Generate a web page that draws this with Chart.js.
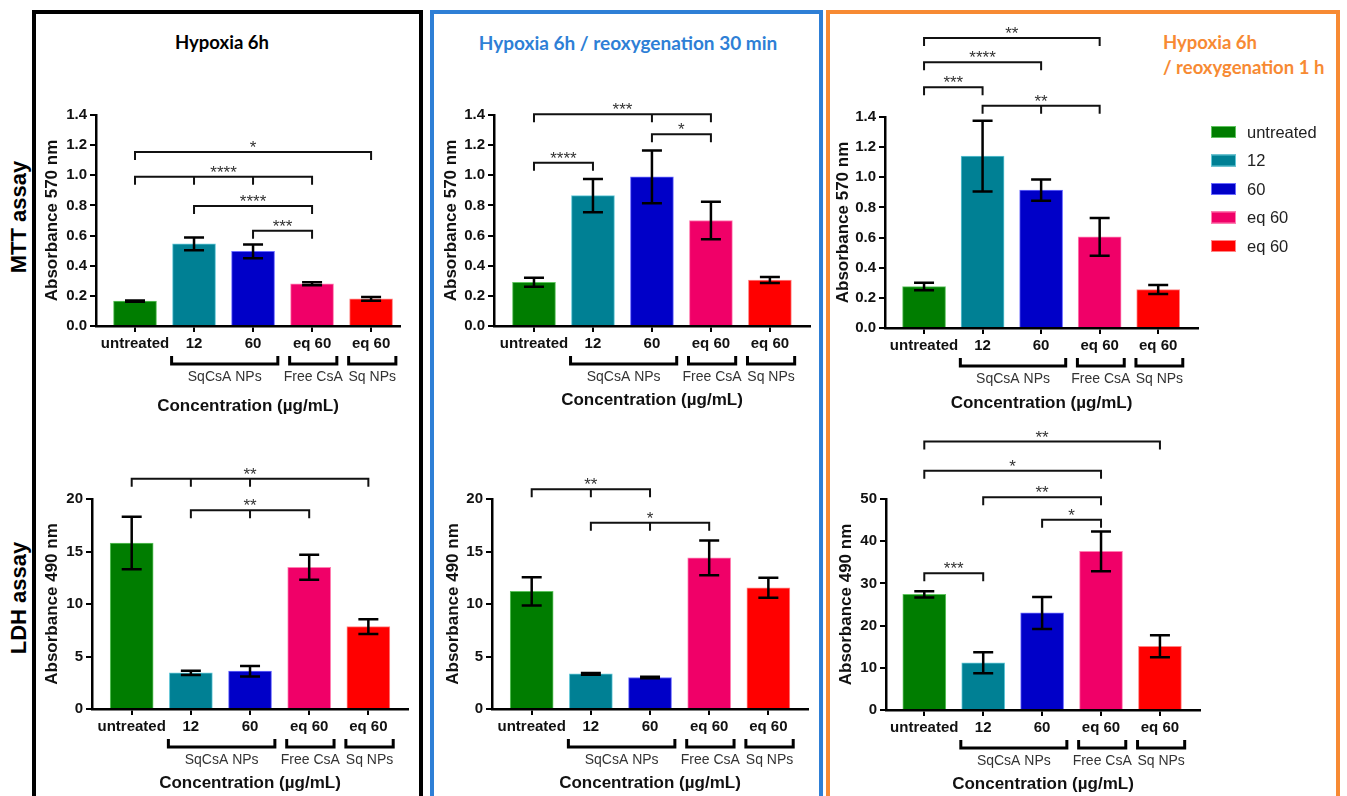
<!DOCTYPE html>
<html>
<head>
<meta charset="utf-8">
<script src="https://cdn.jsdelivr.net/npm/chart.js@4.4.1/dist/chart.umd.min.js"></script>
<style>
  body { margin: 0; background: #fff; }
  #fig { position: relative; width: 1347px; height: 796px; overflow: hidden; font-family: 'Liberation Sans', Arial, sans-serif; }
  .frame { position: absolute; top: 10px; height: 800px; box-sizing: border-box; border: 4px solid; }
  canvas { position: absolute; }
  .lbl { position: absolute; white-space: nowrap; }
  .ptitle { font-family: Lato, 'Open Sans', sans-serif; font-weight: 700; font-size: 18.5px; line-height: 1; }
  .center { transform: translate(-50%, -50%); }
  .row { font-weight: bold; font-size: 22px; color: #000; transform: translate(-50%, -50%) rotate(-90deg); }
</style>
</head>
<body>
<div id="fig">
  <div class="frame" style="left:32px;width:391px;border-color:#000"></div>
  <div class="frame" style="left:430px;width:393px;border-color:#2e7fd6"></div>
  <div class="frame" style="left:826px;width:514px;border-color:#f78a33"></div>

  <div class="lbl ptitle center" style="left:222px;top:42px;color:#000">Hypoxia 6h</div>
  <div class="lbl ptitle center" style="left:628px;top:42px;color:#2e7fd6;font-size:19px">Hypoxia 6h / reoxygenation 30 min</div>
  <div class="lbl ptitle" style="left:1163px;top:33px;color:#f78a33">Hypoxia 6h</div>
  <div class="lbl ptitle" style="left:1163px;top:58px;color:#f78a33">/ reoxygenation 1 h</div>

  <div class="lbl row" style="left:19px;top:217px">MTT assay</div>
  <div class="lbl row" style="left:19px;top:598px">LDH assay</div>

  <canvas id="mtt1"></canvas>
  <canvas id="mtt2"></canvas>
  <canvas id="mtt3"></canvas>
  <canvas id="ldh1"></canvas>
  <canvas id="ldh2"></canvas>
  <canvas id="ldh3"></canvas>
</div>
<script>
const categories   = ['untreated', '12', '60', 'eq 60', 'eq 60'];
const groupLabels  = ['SqCsA NPs', 'Free CsA', 'Sq NPs'];
const groupSpans   = [[1, 2], [3, 3], [4, 4]];
const legendLabels = ['untreated', '12', '60', 'eq 60', 'eq 60'];
const barColors    = ['#007d00', '#008094', '#0000c8', '#f00068', '#ff0000'];
const barEdges     = ['#5fc35f', '#62c6d6', '#6b6bff', '#ff7fb2', '#ff8585'];

const mttTicks   = [0, 0.2, 0.4, 0.6, 0.8, 1.0, 1.2, 1.4];
const ldhTicks   = [0, 5, 10, 15, 20];
const ldhTicks50 = [0, 10, 20, 30, 40, 50];

// MTT assay, absorbance 570 nm
const mttHypoxia      = [0.165, 0.545, 0.495, 0.28, 0.18];
const mttHypoxiaErr   = [0.004, 0.042, 0.045, 0.01, 0.012];
const mttReox30       = [0.29, 0.865, 0.99, 0.70, 0.305];
const mttReox30Err    = [0.03, 0.11, 0.175, 0.125, 0.02];
const mttReox1h       = [0.275, 1.14, 0.915, 0.605, 0.255];
const mttReox1hErr    = [0.025, 0.235, 0.07, 0.125, 0.03];

// LDH assay, absorbance 490 nm
const ldhHypoxia      = [15.8, 3.45, 3.6, 13.5, 7.85];
const ldhHypoxiaErr   = [2.5, 0.2, 0.5, 1.2, 0.7];
const ldhReox30       = [11.2, 3.35, 3.0, 14.4, 11.55];
const ldhReox30Err    = [1.35, 0.08, 0.07, 1.65, 0.95];
const ldhReox1h       = [27.4, 11.2, 23.0, 37.6, 15.1];
const ldhReox1hErr    = [0.75, 2.5, 3.8, 4.7, 2.6];

// significance brackets: [from, to, level, stars, middle ticks]
const sigMttHypoxia = [[0, 4, 1.155, '*', []], [0, 3, 0.99, '****', [1, 2]], [1, 3, 0.797, '****', []], [2, 3, 0.632, '***', []]];
const sigMttReox30  = [[0, 3, 1.405, '***', [2]], [2, 3, 1.273, '*', []], [0, 1, 1.084, '****', []]];
const sigMttReox1h  = [[0, 3, 1.925, '**', []], [0, 2, 1.763, '****', []], [0, 1, 1.597, '***', []], [1, 3, 1.475, '**', [2]]];
const sigLdhHypoxia = [[0, 4, 21.94, '**', [1, 2]], [1, 3, 18.93, '**', [2]]];
const sigLdhReox30  = [[0, 2, 20.92, '**', [1]], [1, 3, 17.74, '*', [2]]];
const sigLdhReox1h  = [[0, 4, 63.6, '**', []], [0, 3, 56.7, '*', []], [1, 3, 50.4, '**', []], [2, 3, 45.1, '*', []], [0, 1, 32.4, '***', []]];

Chart.defaults.font.family = "'Liberation Sans', Arial, sans-serif";
Chart.defaults.color = '#111';

const BOLD15 = { size: 15, weight: 'bold' };
const BOLD17 = { size: 17, weight: 'bold' };

function overlay(o) {
  return {
    id: 'overlay',
    afterDatasetsDraw(chart) {
      const { ctx, scales: { x, y } } = chart;
      ctx.save();
      ctx.strokeStyle = '#000';
      ctx.lineWidth = 2.5;
      o.values.forEach((v, i) => {
        const px = x.getPixelForValue(i);
        const t = y.getPixelForValue(v + o.errors[i]);
        const b = y.getPixelForValue(v - o.errors[i]);
        ctx.beginPath();
        ctx.moveTo(px, t); ctx.lineTo(px, b);
        ctx.moveTo(px - 10, t); ctx.lineTo(px + 10, t);
        ctx.moveTo(px - 10, b); ctx.lineTo(px + 10, b);
        ctx.stroke();
      });
      ctx.restore();
    },
    afterDraw(chart) {
      const { ctx, scales: { x, y }, chartArea } = chart;
      ctx.save();
      // significance brackets
      ctx.lineWidth = 2;
      ctx.strokeStyle = '#111';
      ctx.fillStyle = '#333';
      ctx.font = "17px 'Liberation Sans', Arial, sans-serif";
      ctx.textAlign = 'center';
      ctx.textBaseline = 'alphabetic';
      o.sig.forEach(([from, to, level, stars, mids]) => {
        const x1 = x.getPixelForValue(from), x2 = x.getPixelForValue(to);
        const yy = y.getPixelForValue(level);
        ctx.beginPath();
        ctx.moveTo(x1, yy + 8); ctx.lineTo(x1, yy); ctx.lineTo(x2, yy); ctx.lineTo(x2, yy + 8);
        mids.forEach(m => { const xm = x.getPixelForValue(m); ctx.moveTo(xm, yy); ctx.lineTo(xm, yy + 8); });
        ctx.stroke();
        ctx.fillText(stars, (x1 + x2) / 2, yy + 1);
      });
      // group brackets under the category labels
      const y0 = y.getPixelForValue(0);
      ctx.lineWidth = 3;
      ctx.strokeStyle = '#000';
      ctx.font = "14px 'Liberation Sans', Arial, sans-serif";
      ctx.textBaseline = 'middle';
      groupSpans.forEach(([from, to], g) => {
        const xa = x.getPixelForValue(from - 0.38), xb = x.getPixelForValue(to + 0.42);
        const yy = y0 + 38;
        ctx.beginPath();
        ctx.moveTo(xa, yy - 8); ctx.lineTo(xa, yy); ctx.lineTo(xb, yy); ctx.lineTo(xb, yy - 8);
        ctx.stroke();
        ctx.fillText(groupLabels[g], (xa + xb) / 2, y0 + 51);
      });
      // legend
      if (o.legend) {
        const lx = chartArea.right + 13;
        ctx.textAlign = 'left';
        ctx.font = "16.5px 'Liberation Sans', Arial, sans-serif";
        ctx.lineWidth = 1;
        legendLabels.forEach((lab, i) => {
          const cy = chartArea.top + 15 + i * 28.5;
          ctx.fillStyle = barColors[i];
          ctx.fillRect(lx, cy - 6, 25, 12);
          ctx.strokeStyle = barEdges[i];
          ctx.strokeRect(lx + 0.5, cy - 5.5, 24, 11);
          ctx.fillStyle = '#222';
          ctx.fillText(lab, lx + 36, cy + 1);
        });
      }
      ctx.restore();
    }
  };
}

function makeChart(id, o) {
  const cv = document.getElementById(id);
  const [cx, cy, cw, ch] = o.canvas;
  const [al, at, ar, ab] = o.area;
  cv.width = cw; cv.height = ch;
  cv.style.left = cx + 'px'; cv.style.top = cy + 'px';
  const yW = al - cx, padTop = at - cy, padRight = cx + cw - ar, xH = cy + ch - ab;

  return new Chart(cv, {
    type: 'bar',
    data: {
      datasets: [{
        data:            o.values.map((v, i) => ({ x: i, y: v })),
        backgroundColor: barColors,
        borderColor:     barEdges,
        borderWidth:     1,
        barThickness:    43,
      }],
    },
    options: {
      responsive: false,
      animation:  false,
      layout:     { padding: { left: 0, top: padTop, right: padRight, bottom: 0 } },
      plugins:    { legend: { display: false }, tooltip: { enabled: false } },
      scales: {
        x: {
          type:   'linear',
          min:    o.xMin,
          max:    o.xMax,
          offset: false,
          z:      1,
          afterBuildTicks: s => { s.ticks = categories.map((_, i) => ({ value: i })); },
          afterFit:        s => { s.height = xH; },
          ticks:  { autoSkip: false, maxRotation: 0, font: BOLD15, color: '#111', padding: 3,
                    callback: v => categories[v] },
          grid:   { offset: false, drawOnChartArea: false, tickLength: 6, color: '#000', lineWidth: 2 },
          border: { color: '#000', width: 2.5 },
          title:  { display: true, text: 'Concentration (µg/mL)', font: BOLD17, color: '#111',
                    padding: { top: 0, bottom: cy + ch - 10.2 - o.xTitleY } },
        },
        y: {
          min: 0,
          max: o.yTicks[o.yTicks.length - 1],
          z:   1,
          afterBuildTicks: s => { s.ticks = o.yTicks.map(v => ({ value: v })); },
          afterFit:        s => { s.width = yW; },
          ticks:  { font: BOLD15, color: '#111', padding: 3, callback: v => v.toFixed(o.dec) },
          grid:   { drawOnChartArea: false, tickLength: 6, color: '#000', lineWidth: 2 },
          border: { color: '#000', width: 2.5 },
          title:  { display: true, text: o.yTitle, font: BOLD17, color: '#111',
                    padding: { top: o.yTitleX - cx - 10.2, bottom: 0 } },
        },
      },
    },
    plugins: [overlay(o)],
  });
}

makeChart('mtt1', { canvas: [37, 15, 381, 405], area: [96, 115, 400, 326], xMin: -0.661, xMax: 4.49,
  yTitleX: 52, xTitleY: 406, yTicks: mttTicks, dec: 1, yTitle: 'Absorbance 570 nm',
  values: mttHypoxia, errors: mttHypoxiaErr, sig: sigMttHypoxia });
makeChart('mtt2', { canvas: [435, 15, 383, 405], area: [494, 115, 810, 326], xMin: -0.678, xMax: 4.68,
  yTitleX: 451, xTitleY: 400, yTicks: mttTicks, dec: 1, yTitle: 'Absorbance 570 nm',
  values: mttReox30, errors: mttReox30Err, sig: sigMttReox30 });
makeChart('mtt3', { canvas: [831, 15, 505, 405], area: [885, 117, 1198, 328], xMin: -0.667, xMax: 4.68,
  yTitleX: 843, xTitleY: 403, yTicks: mttTicks, dec: 1, yTitle: 'Absorbance 570 nm',
  values: mttReox1h, errors: mttReox1hErr, sig: sigMttReox1h, legend: true });
makeChart('ldh1', { canvas: [37, 420, 381, 376], area: [92, 499, 408, 709], xMin: -0.671, xMax: 4.67,
  yTitleX: 52, xTitleY: 783, yTicks: ldhTicks, dec: 0, yTitle: 'Absorbance 490 nm',
  values: ldhHypoxia, errors: ldhHypoxiaErr, sig: sigLdhHypoxia });
makeChart('ldh2', { canvas: [435, 420, 383, 376], area: [492, 499, 808, 709], xMin: -0.671, xMax: 4.67,
  yTitleX: 453, xTitleY: 783, yTicks: ldhTicks, dec: 0, yTitle: 'Absorbance 490 nm',
  values: ldhReox30, errors: ldhReox30Err, sig: sigLdhReox30 });
makeChart('ldh3', { canvas: [831, 420, 505, 376], area: [886, 499, 1200, 710], xMin: -0.65, xMax: 4.68,
  yTitleX: 846, xTitleY: 784, yTicks: ldhTicks50, dec: 0, yTitle: 'Absorbance 490 nm',
  values: ldhReox1h, errors: ldhReox1hErr, sig: sigLdhReox1h });
</script>
</body>
</html>
